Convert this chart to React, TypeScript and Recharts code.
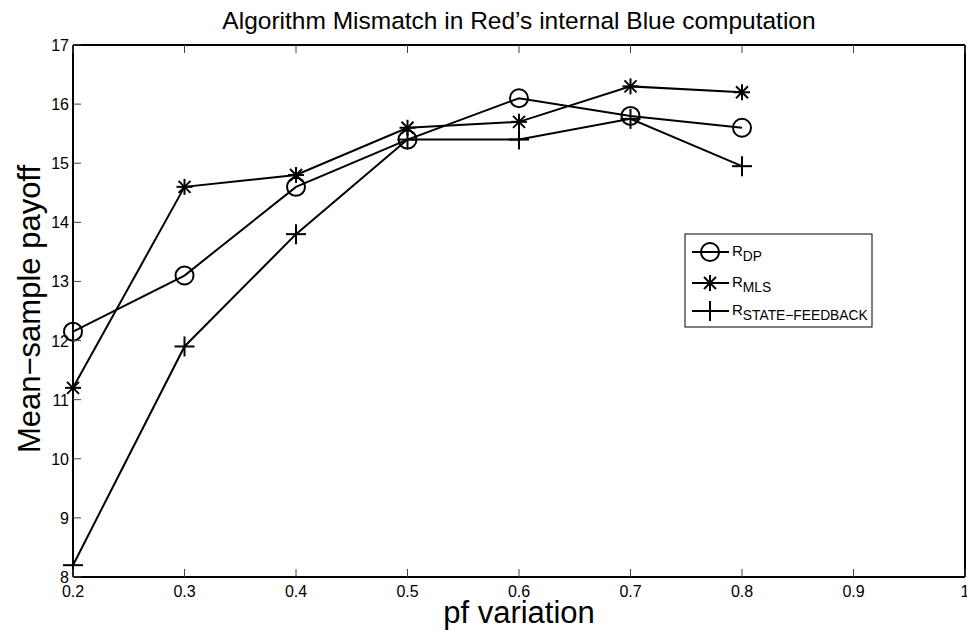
import React from 'react';
import { LineChart, Line, XAxis, YAxis, Customized } from 'recharts';

// pf variation settings on the x axis
const pfValues = [0.2, 0.3, 0.4, 0.5, 0.6, 0.7, 0.8];

// mean-sample payoff for each approach
const rDP = [12.15, 13.1, 14.6, 15.4, 16.1, 15.8, 15.6];
const rMLS = [11.2, 14.6, 14.8, 15.6, 15.7, 16.3, 16.2];
const rStateFeedback = [8.2, 11.9, 13.8, 15.4, 15.4, 15.75, 14.95];

// axis ticks
const xTicks = [0.2, 0.3, 0.4, 0.5, 0.6, 0.7, 0.8, 0.9, 1];
const xTickLabels = ['0.2', '0.3', '0.4', '0.5', '0.6', '0.7', '0.8', '0.9', '1'];
const yTicks = [8, 9, 10, 11, 12, 13, 14, 15, 16, 17];

const titleText = 'Algorithm Mismatch in Red\u2019s internal Blue computation';
const xLabelText = 'pf variation';
const yLabelText = 'Mean\u2212sample payoff';

const rows = pfValues.map((pf, i) => ({
  pf,
  dp: rDP[i],
  mls: rMLS[i],
  sf: rStateFeedback[i],
}));

const FONT = '"Liberation Sans", Arial, Helvetica, sans-serif';
const TICK_LEN = 8;
const TICK_COLOR = '#444';

const CircleMark = ({ cx, cy }: { cx: number; cy: number }) => (
  <circle cx={cx} cy={cy} r={9} fill="none" stroke="#000" strokeWidth={2} />
);

const StarMark = ({ cx, cy }: { cx: number; cy: number }) => {
  const h = 8;
  const d = 6;
  return (
    <g stroke="#000" strokeWidth={2}>
      <line x1={cx} y1={cy - h} x2={cx} y2={cy + h} />
      <line x1={cx - h} y1={cy} x2={cx + h} y2={cy} />
      <line x1={cx - d} y1={cy - d} x2={cx + d} y2={cy + d} />
      <line x1={cx - d} y1={cy + d} x2={cx + d} y2={cy - d} />
    </g>
  );
};

const PlusMark = ({ cx, cy }: { cx: number; cy: number }) => {
  const h = 10;
  return (
    <g stroke="#000" strokeWidth={2}>
      <line x1={cx} y1={cy - h} x2={cx} y2={cy + h} />
      <line x1={cx - h} y1={cy} x2={cx + h} y2={cy} />
    </g>
  );
};

const BottomTick = (props: any) => {
  const { x, y, payload, index } = props;
  const label = xTickLabels[index] ?? String(payload.value);
  return (
    <g>
      <line x1={x} y1={y} x2={x} y2={y - TICK_LEN} stroke={TICK_COLOR} strokeWidth={1} />
      <text x={x} y={y + 20} textAnchor="middle" fontSize={16} fontFamily={FONT} fill="#000">
        {label}
      </text>
    </g>
  );
};

const TopTick = (props: any) => {
  const { x, y } = props;
  return <line x1={x} y1={y} x2={x} y2={y + TICK_LEN} stroke={TICK_COLOR} strokeWidth={1} />;
};

const LeftTick = (props: any) => {
  const { x, y, payload } = props;
  return (
    <g>
      <line x1={x} y1={y} x2={x + TICK_LEN} y2={y} stroke={TICK_COLOR} strokeWidth={1} />
      <text x={x - 4} y={y + 6} textAnchor="end" fontSize={16} fontFamily={FONT} fill="#000">
        {payload.value}
      </text>
    </g>
  );
};

const RightTick = (props: any) => {
  const { x, y } = props;
  return <line x1={x} y1={y} x2={x - TICK_LEN} y2={y} stroke={TICK_COLOR} strokeWidth={1} />;
};

const legendEntries = [
  { name: 'R', sub: 'DP', Mark: CircleMark },
  { name: 'R', sub: 'MLS', Mark: StarMark },
  { name: 'R', sub: 'STATE\u2212FEEDBACK', Mark: PlusMark },
];

// title, axis titles and the boxed legend
const Decorations = () => {
  const box = { x: 685, y: 234, w: 187, h: 93 };
  const rowY = [252, 283, 311];
  return (
    <g fontFamily={FONT}>
      <text x={519} y={29} textAnchor="middle" fontSize={24.5} fill="#000">
        {titleText}
      </text>
      <text x={519} y={623} textAnchor="middle" fontSize={31} fill="#000">
        {xLabelText}
      </text>
      <text
        x={0}
        y={0}
        transform={`translate(40, 309) rotate(-90)`}
        textAnchor="middle"
        fontSize={31}
        fill="#000"
      >
        {yLabelText}
      </text>
      <rect x={box.x} y={box.y} width={box.w} height={box.h} fill="#fff" stroke="#000" strokeWidth={1} />
      {legendEntries.map((e, i) => {
        const y = rowY[i];
        const Mark = e.Mark;
        return (
          <g key={e.sub}>
            <line x1={692} y1={y} x2={729} y2={y} stroke="#000" strokeWidth={2} />
            <Mark cx={710} cy={y} />
            <text x={732} y={y + 4} fontSize={15} fill="#000">
              {e.name}
              <tspan fontSize={13.8} dy={5}>
                {e.sub}
              </tspan>
            </text>
          </g>
        );
      })}
    </g>
  );
};

export default function App() {
  return (
    <div style={{ position: 'absolute', left: 0, top: 0, background: '#fff' }}>
      <LineChart
        width={967}
        height={630}
        data={rows}
        margin={{ top: 44, right: 1, bottom: 52, left: 72 }}
        style={{ fontFamily: FONT }}
      >
        <XAxis
          dataKey="pf"
          type="number"
          domain={[0.2, 1]}
          ticks={xTicks}
          interval={0}
          height={1}
          tickSize={0}
          tickMargin={0}
          tickLine={false}
          axisLine={{ stroke: '#000', strokeWidth: 2 }}
          tick={<BottomTick />}
        />
        <XAxis
          xAxisId="top"
          orientation="top"
          dataKey="pf"
          type="number"
          domain={[0.2, 1]}
          ticks={xTicks}
          interval={0}
          height={1}
          tickSize={0}
          tickMargin={0}
          tickLine={false}
          axisLine={{ stroke: '#000', strokeWidth: 2 }}
          tick={<TopTick />}
        />
        <YAxis
          type="number"
          domain={[8, 17]}
          ticks={yTicks}
          interval={0}
          width={1}
          tickSize={0}
          tickMargin={0}
          tickLine={false}
          axisLine={{ stroke: '#000', strokeWidth: 2 }}
          tick={<LeftTick />}
        />
        <YAxis
          yAxisId="right"
          orientation="right"
          type="number"
          domain={[8, 17]}
          ticks={yTicks}
          interval={0}
          width={1}
          tickSize={0}
          tickMargin={0}
          tickLine={false}
          axisLine={{ stroke: '#000', strokeWidth: 2 }}
          tick={<RightTick />}
        />
        <Line
          dataKey="dp"
          stroke="#000"
          strokeWidth={2}
          isAnimationActive={false}
          activeDot={false}
          dot={(p: any) => <CircleMark key={`dp-${p.index}`} cx={p.cx} cy={p.cy} />}
        />
        <Line
          dataKey="mls"
          stroke="#000"
          strokeWidth={2}
          isAnimationActive={false}
          activeDot={false}
          dot={(p: any) => <StarMark key={`mls-${p.index}`} cx={p.cx} cy={p.cy} />}
        />
        <Line
          dataKey="sf"
          stroke="#000"
          strokeWidth={2}
          isAnimationActive={false}
          activeDot={false}
          dot={(p: any) => <PlusMark key={`sf-${p.index}`} cx={p.cx} cy={p.cy} />}
        />
        <Customized component={<Decorations />} />
      </LineChart>
    </div>
  );
}
